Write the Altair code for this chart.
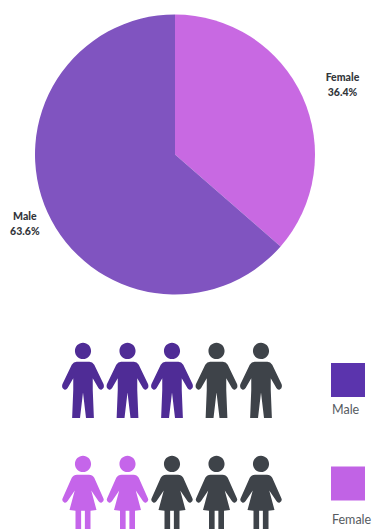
import altair as alt
import pandas as pd

# Gender split shown in the pie
genders = ["Female", "Male"]
shares = [36.4, 63.6]
slice_colors = ["#c869e2", "#8054c0"]

# Five figures per row; filled counts per gender
figures_per_row = 5
filled_counts = {"Male": 3, "Female": 2}
icon_colors = {"Male": "#4f2c96", "Female": "#c565ea"}
empty_color = "#3e4349"
legend_colors = {"Male": "#5b34ad", "Female": "#c163e5"}

HEAD = "M-.215 -.79A.215 .215 0 1 1 .215 -.79A.215 .215 0 1 1 -.215 -.79Z"
MALE_ICON = (
    "M-.17 -.5L.17 -.5Q.25 -.5 .3 -.42L.55 .1Q.58 .2 .5 .24Q.45 .26 .41 .2"
    "L.26 -.06L.26 .25L.29 1L.08 1L0 .32L-.08 1L-.29 1L-.26 .25L-.26 -.06L-.41 .2"
    "Q-.45 .26 -.5 .24Q-.58 .2 -.55 .1L-.3 -.42Q-.25 -.5 -.17 -.5Z" + HEAD
)
FEMALE_ICON = (
    "M-.16 -.5L.16 -.5Q.25 -.5 .3 -.42L.54 .12Q.58 .2 .5 .24Q.45 .26 .41 .2"
    "L.22 -.08L.36 .44L.2 .46L.2 1L.05 1L.05 .46L-.05 .46L-.05 1L-.2 1L-.2 .46"
    "L-.36 .44L-.22 -.08L-.41 .2Q-.45 .26 -.5 .24Q-.58 .2 -.54 .12L-.3 -.42"
    "Q-.25 -.5 -.16 -.5Z" + HEAD
)

pie_df = pd.DataFrame({"gender": genders, "share": shares})
pie_df["label"] = [f"{g}\n{s}%" for g, s in zip(genders, shares)]

icon_df = pd.DataFrame(
    [
        {
            "gender": g,
            "col": c,
            "tone": icon_colors[g] if c < filled_counts[g] else empty_color,
        }
        for g in ["Male", "Female"]
        for c in range(figures_per_row)
    ]
)
legend_df = pd.DataFrame(
    {"gender": ["Male", "Female"], "tone": [legend_colors["Male"], legend_colors["Female"]]}
)

color_scale = alt.Scale(domain=genders, range=slice_colors)
PIE_X, PIE_Y = 175, 154.5


def row_scale(first, second):
    return alt.Scale(type="point", padding=0, domain=["Male", "Female"], range=[first, second])


# Slices stack clockwise from twelve o'clock, Female first
arcs = alt.Chart(pie_df).mark_arc(radius=140, strokeWidth=0).encode(
    x=alt.value(PIE_X),
    y=alt.value(PIE_Y),
    theta=alt.Theta("share:Q", stack=True),
    order=alt.Order("gender:N"),
    color=alt.Color("gender:N", scale=color_scale, legend=None),
)


def pie_label(gender, radius, dy):
    return (
        alt.Chart(pie_df)
        .transform_stack(stack="share", groupby=[], sort=[alt.SortField("gender")], as_=["start", "end"])
        .transform_calculate(mid="(datum.start + datum.end) / 2")
        .transform_filter(alt.datum.gender == gender)
        .mark_text(
            radius=radius, dy=dy, lineBreak="\n", lineHeight=15,
            font="Lato", fontWeight=900, fontSize=10.5, color="#33363b",
            baseline="middle", align="center",
        )
        .encode(
            x=alt.value(PIE_X),
            y=alt.value(PIE_Y),
            theta=alt.Theta("mid:Q"),
            text="label:N",
        )
    )


icon_x = alt.X("col:Q", scale=alt.Scale(domain=[0, 4], range=[83, 261]), axis=None)
icon_y = alt.Y("gender:N", scale=row_scale(380.5, 493.5), axis=None)


def icon_row(gender, path):
    return (
        alt.Chart(icon_df)
        .transform_filter(alt.datum.gender == gender)
        .mark_point(shape=path, filled=True, size=5625, opacity=1, strokeWidth=0)
        .encode(x=icon_x, y=icon_y, fill=alt.Fill("tone:N", scale=None))
    )


swatches = (
    alt.Chart(legend_df)
    .mark_square(size=1156, opacity=1, strokeWidth=0)
    .encode(
        x=alt.value(348),
        y=alt.Y("gender:N", scale=row_scale(380, 483.5), axis=None),
        fill=alt.Fill("tone:N", scale=None),
    )
)
swatch_text = (
    alt.Chart(legend_df)
    .mark_text(font="Lato", fontSize=12.5, color="#565b61", align="left", baseline="middle")
    .encode(
        x=alt.value(332),
        y=alt.Y("gender:N", scale=row_scale(410, 520), axis=None),
        text="gender:N",
    )
)

chart = (
    alt.layer(
        arcs,
        pie_label("Female", 184, 0),
        pie_label("Male", 165, -5.5),
        icon_row("Male", MALE_ICON),
        icon_row("Female", FEMALE_ICON),
        swatches,
        swatch_text,
    )
    .resolve_scale(x="independent", y="independent")
    .properties(width=377, height=529, padding=0, autosize=alt.AutoSizeParams(type="none"))
    .configure_view(strokeWidth=0)
)

chart.save("out.html", embed_options={"renderer": "svg", "actions": False})
